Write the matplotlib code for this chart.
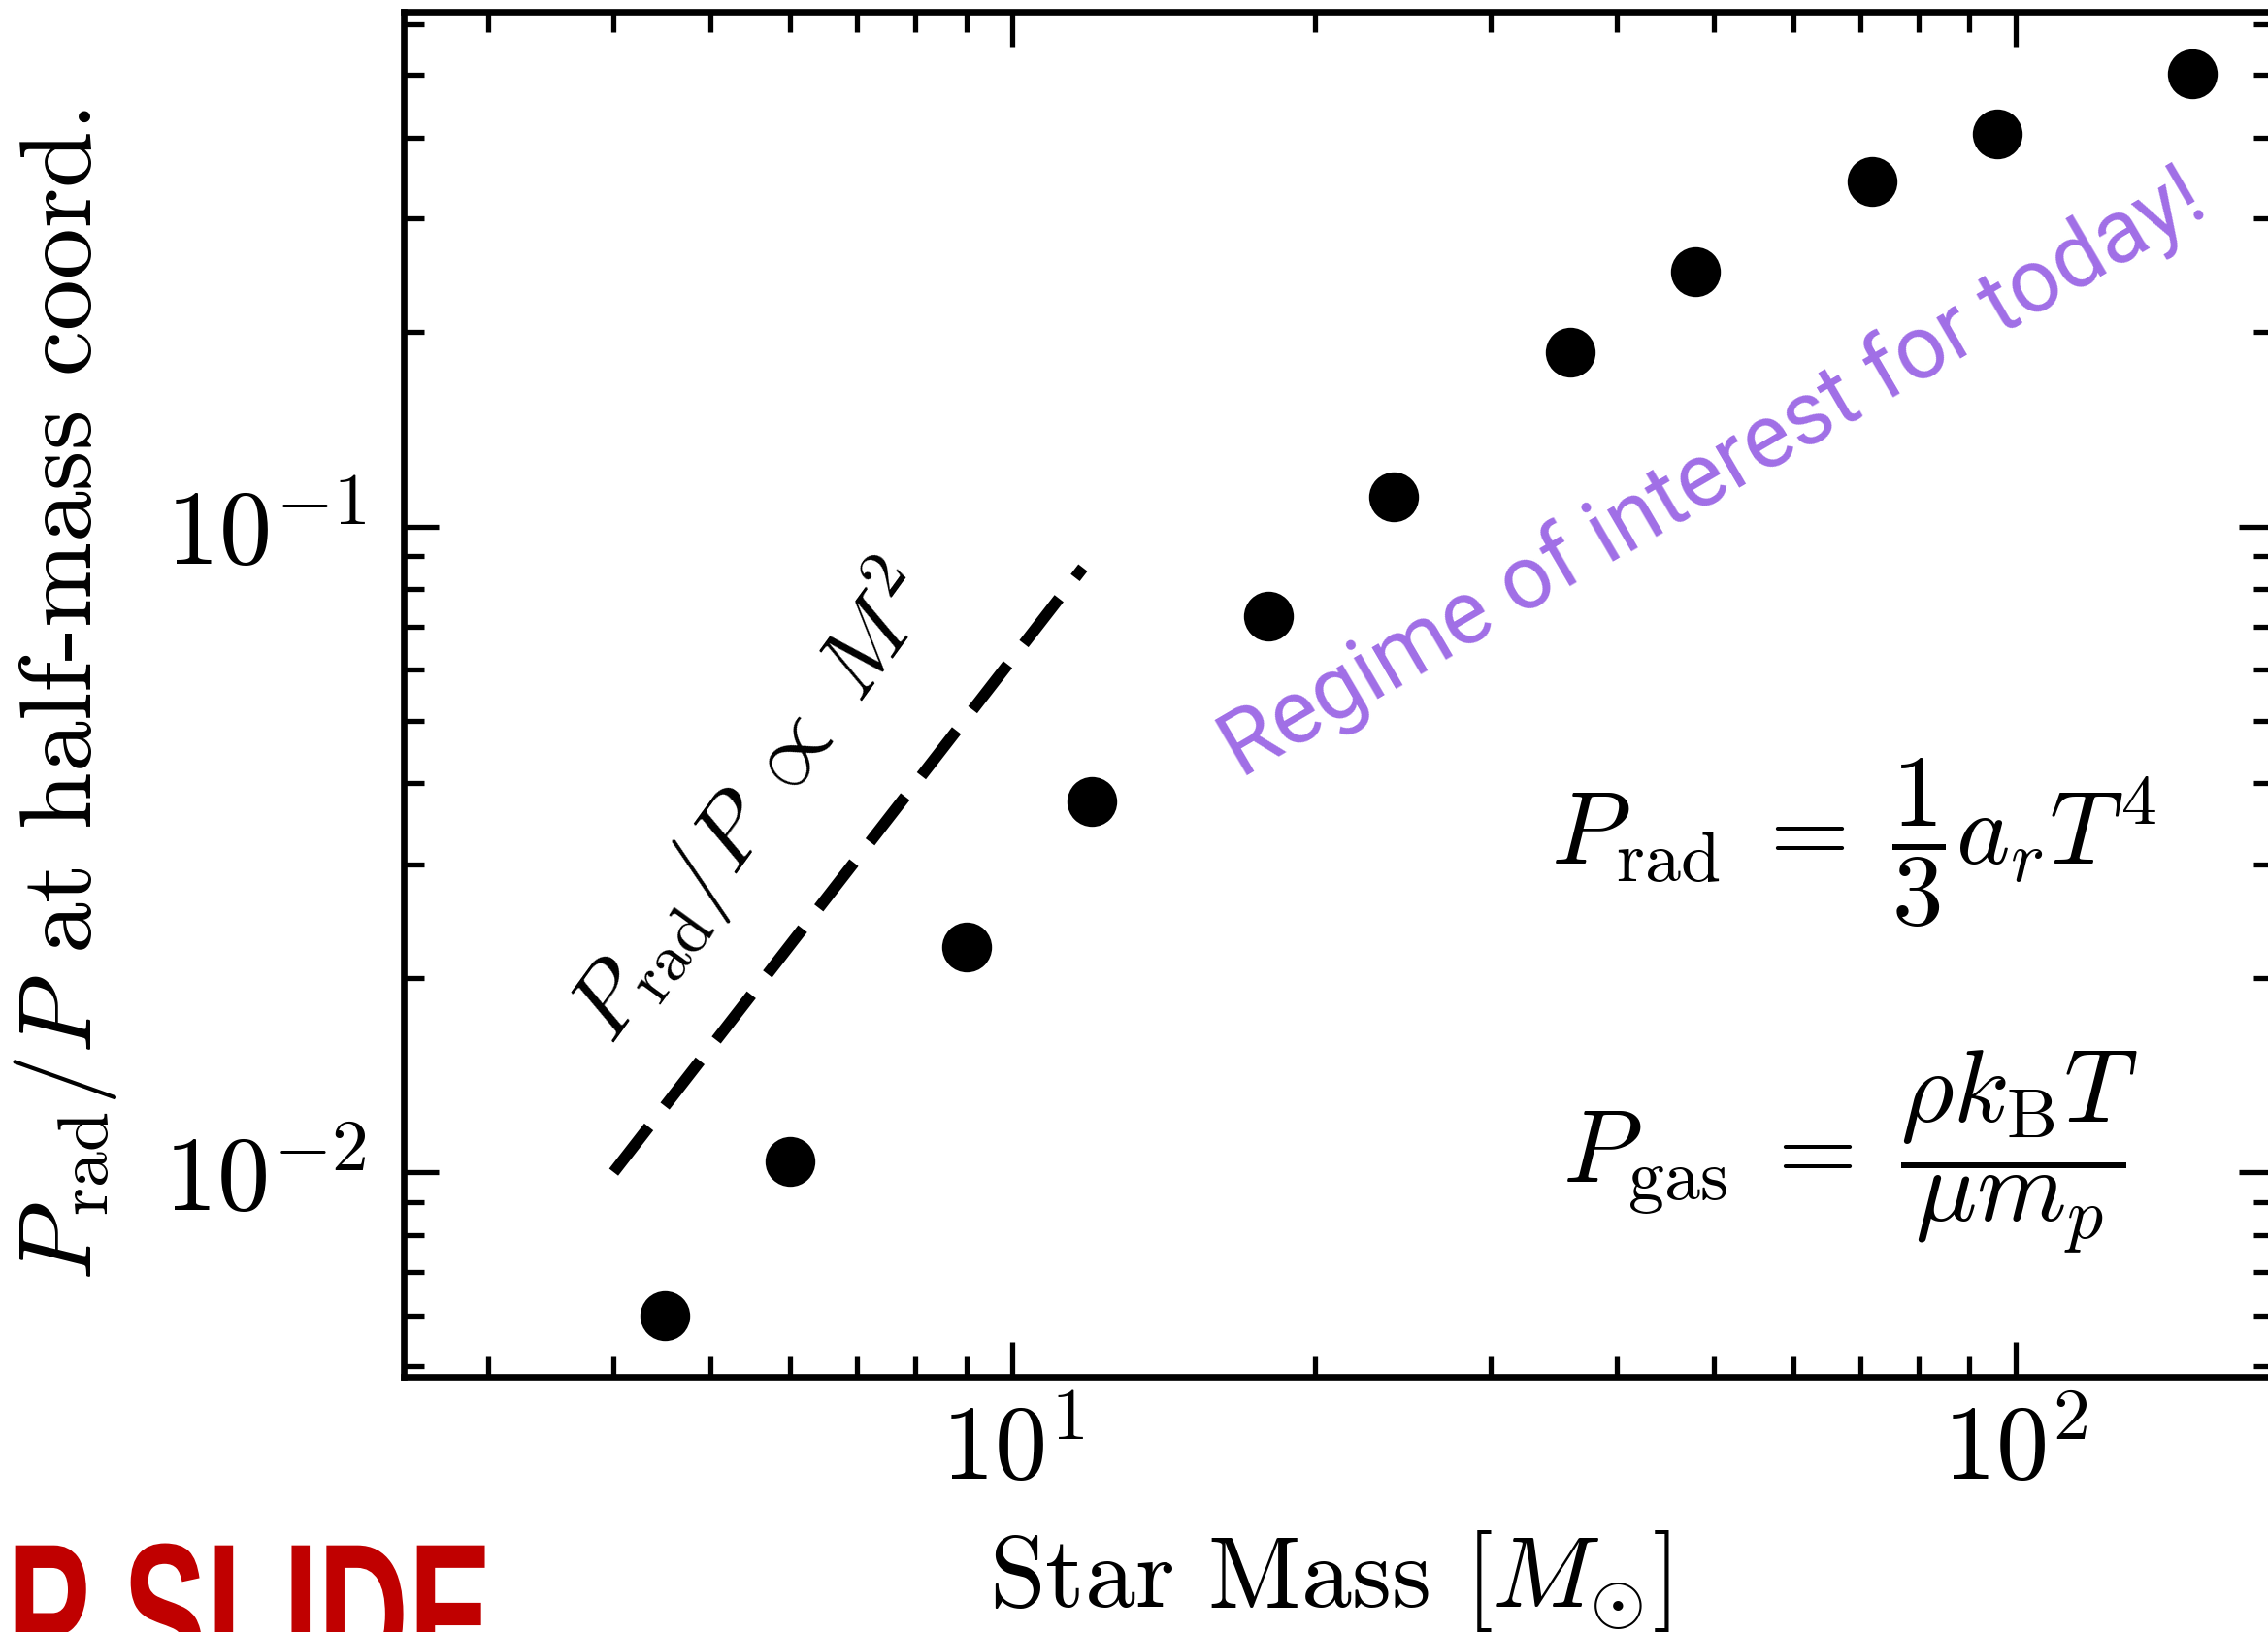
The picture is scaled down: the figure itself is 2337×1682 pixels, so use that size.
import matplotlib
matplotlib.use("Agg")
import matplotlib.pyplot as plt
from matplotlib.patheffects import AbstractPathEffect
from matplotlib.transforms import Affine2D
from matplotlib.ticker import FixedLocator, LogLocator, NullFormatter

# Stellar models: mass [Msun] and radiation-pressure fraction at the half-mass coordinate
mass = [4.5, 6, 9, 12, 18, 24, 36, 48, 72, 96, 150]
prad_frac = [0.0060, 0.0104, 0.0223, 0.0375, 0.0726, 0.111, 0.186, 0.248, 0.342, 0.405, 0.503]

# Reference M^2 scaling segment
guide_mass = [4.0, 11.75]
guide_frac = [0.0100, 0.0863]

x_major = [10, 100]
x_major_labels = [r"$10^{1}$", r"$10^{2}$"]
y_major = [0.01, 0.1]
y_major_labels = [r"$10^{-2}$", r"$10^{-1}$"]

plt.rcParams.update({
    "font.family": "serif",
    "font.serif": ["cmr10"],
    "mathtext.fontset": "cm",
    "axes.unicode_minus": False,
})


class Condense(AbstractPathEffect):
    """Squeeze glyphs horizontally about a fixed x position (in pixels)."""

    def __init__(self, sx, x0):
        super().__init__()
        self.sx = sx
        self.x0 = x0

    def draw_path(self, renderer, gc, tpath, affine, rgbFace=None):
        t = affine + Affine2D().translate(-self.x0, 0).scale(self.sx, 1).translate(self.x0, 0)
        renderer.draw_path(gc, tpath, t, rgbFace)


W, H = 2337, 1683
fig = plt.figure(figsize=(W / 100, H / 100), dpi=100)
ax = fig.add_axes([416 / W, 1 - 1420 / H, 1927 / W, 1407 / H])

ax.set_xscale("log")
ax.set_yscale("log")
ax.set_xlim(2.47, 181)
ax.set_ylim(0.00482, 0.627)

ax.plot(mass, prad_frac, "o", color="black", markersize=37, markeredgewidth=0)
ax.plot(guide_mass, guide_frac, color="black", linewidth=8.5, dashes=(5.0, 2.3),
        dash_capstyle="butt")

ax.xaxis.set_major_locator(FixedLocator(x_major))
ax.set_xticklabels(x_major_labels)
ax.yaxis.set_major_locator(FixedLocator(y_major))
ax.set_yticklabels(y_major_labels)
ax.xaxis.set_minor_locator(LogLocator(base=10, subs=range(2, 10), numticks=20))
ax.yaxis.set_minor_locator(LogLocator(base=10, subs=range(2, 10), numticks=20))
ax.xaxis.set_minor_formatter(NullFormatter())
ax.yaxis.set_minor_formatter(NullFormatter())

for s in ax.spines.values():
    s.set_linewidth(4.8)
ax.tick_params(which="both", direction="in", top=True, right=True, width=3.8)
ax.tick_params(which="major", length=26, labelsize=78)
ax.tick_params(axis="x", which="major", pad=20)
ax.tick_params(axis="y", which="major", pad=28)
ax.tick_params(which="minor", length=15)

ax.set_xlabel(r"Star Mass $[M_{\odot}]$", fontsize=75)
ax.xaxis.set_label_coords(0.495, -0.110)
ax.set_ylabel(r"$P_{\rm rad}/P$ at half-mass coord.", fontsize=76)
ax.yaxis.set_label_coords(-0.152, 0.5)

ax.text(5.5, 0.0372, r"$P_{\rm rad}/P \;\propto\; M^2$", fontsize=70, rotation=54,
        rotation_mode="anchor", ha="center", va="center")
ax.text(69.0, 0.0325, r"$P_{\rm rad} \;=\; \dfrac{1}{3}a_r T^4$", fontsize=76,
        ha="center", va="center")
ax.text(68.5, 0.0108, r"$P_{\rm gas} \;=\; \dfrac{\rho k_{\rm B} T}{\mu m_p}$", fontsize=76,
        ha="center", va="center")
ax.text(50.0, 0.121, "Regime of interest for today!", fontsize=66, family="Roboto",
        color="#A06EE6", rotation=30.3, rotation_mode="anchor", ha="center", va="center")

fig.text(7 / W, 1 - 1737 / H, "P SLIDE", fontsize=150, fontweight="bold",
         family=["Liberation Sans Narrow", "Liberation Sans"], color="#C00000",
         ha="left", va="baseline", path_effects=[Condense(0.62, 7)])

fig.savefig("out.png", dpi=100)
